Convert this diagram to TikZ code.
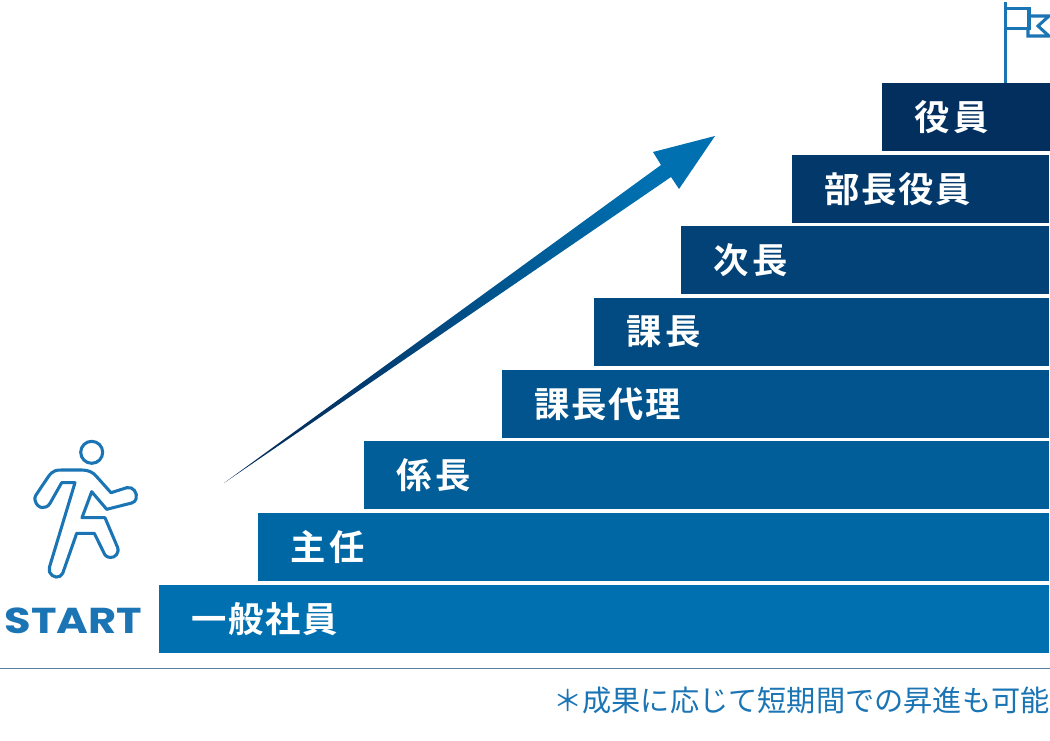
\documentclass[tikz,border=0pt]{standalone}
\usepackage{fontspec}
\usetikzlibrary{positioning}
\newfontfamily\jpbar[LetterSpace=4]{Noto Sans CJK JP Bold}
\newfontfamily\jpwide[LetterSpace=10]{Noto Sans CJK JP Bold}
\newfontfamily\jpnote{Noto Sans CJK JP}
\newfontfamily\startfont{Poppins Bold}
\definecolor{barlow}{HTML}{0070B0}
\definecolor{bartop}{HTML}{032F5F}
\definecolor{noteblue}{HTML}{1B75B5}
\definecolor{rulegrey}{HTML}{5A7FA5}
\tikzset{
  stepbar/.style={anchor=west,minimum height=51pt,inner xsep=24.4pt,inner ysep=0pt,
    text=white,align=left,font=\jpbar\fontsize{26.5pt}{29pt}\selectfont},
  widebar/.style={stepbar,font=\jpwide\fontsize{26.5pt}{29pt}\selectfont},
  icon/.style={draw=noteblue,line width=2.3pt,line join=round,line cap=round}
}
\begin{document}
\begin{tikzpicture}[x=0.75pt,y=-0.75pt]
        \useasboundingbox (0,0) rectangle (1050,740);
        % steps, lowest first
        \node[stepbar,fill=barlow,text width=618.7pt]             (ippan)   at (159,619) {一般社員};
        \node[widebar,fill=bartop!14!barlow,text width=544.45pt]  (shunin)  at (258,547) {主任};
        \node[widebar,fill=bartop!28!barlow,text width=464.95pt]  (kakari)  at (364,475) {係長};
        \node[stepbar,fill=bartop!43!barlow,text width=361.45pt]  (dairi)   at (502,404) {課長代理};
        \node[widebar,fill=bartop!57!barlow,text width=292.45pt]  (kacho)   at (594,332) {課長};
        \node[widebar,fill=bartop!71!barlow,text width=227.2pt]   (jicho)   at (681,260) {次長};
        \node[stepbar,fill=bartop!86!barlow,text width=143.95pt]  (bucho)   at (792,189) {部長役員};
        \node[widebar,fill=bartop,text width=76.7pt]              (yakuin)  at (882,117) {役員};
        % rising arrow
        \shade[bottom color=bartop,top color=barlow,shading=axis,shading angle=-54.7]
        (224,483) -- (661,165) -- (653,152) -- (715,136) -- (679,189) -- (671,177) -- cycle;
        % flag
        \draw[icon,line cap=butt] (1005.3,2) -- (1005.3,83);
        \draw[icon,line join=miter] (1005.3,8.3) -- (1029,8.3) -- (1029,28.3) -- (1005.3,28.3);
        \draw[icon,line join=miter,line cap=butt] (1029,16) -- (1049,16) -- (1038,26) -- (1049,36) -- (1028,36) -- (1028,28.3);
        % walker
        \draw[icon] (91.7,452.3) circle (11);
        \draw[icon] (75,482.7) -- (61.7,482.7) -- (50,503.3)
        .. controls (46,510) and (37,509) .. (35,500)
        .. controls (34.5,498) and (35,497) .. (36,495)
        -- (48.3,476.7) .. controls (53,470) and (57,470) .. (61.7,470)
        -- (81.7,470) .. controls (88,470) and (93,472) .. (96.7,476.7)
        -- (111,492.7) -- (126.7,487.7)
        .. controls (133,486) and (138,493) .. (136,499)
        .. controls (135.5,501) and (134,502) .. (131.7,503)
        -- (106.7,509.3) -- (91.7,491.7) -- (82,517.7) -- (105,517.7) -- (117.3,546.7)
        .. controls (120,553) and (115,558) .. (110,557.5)
        .. controls (108,557.5) and (106,556) .. (105,555)
        -- (94.3,533.3) -- (76.7,533.3) -- (62.7,573.3)
        .. controls (60,579) and (52,578) .. (49.5,572)
        .. controls (49,570) and (49,569) .. (49.5,567)
        -- cycle;
        \node[font=\startfont\fontsize{27pt}{29pt}\selectfont,text=noteblue,inner sep=0pt,xscale=1.2] (start) at (73.5,620.5) {START};
        % footer
        \node[coordinate] (rulea) at (0,668.5) {};
        \node[coordinate] (ruleb) at (1050,668.5) {};
        \draw[rulegrey,line width=0.75pt] (rulea) -- (ruleb);
        \node[anchor=east,inner sep=0pt,text=noteblue,font=\jpnote\fontsize{21.9pt}{24pt}\selectfont] (note) at (1050,700.5) {＊成果に応じて短期間での昇進も可能};
\end{tikzpicture}
\end{document}
